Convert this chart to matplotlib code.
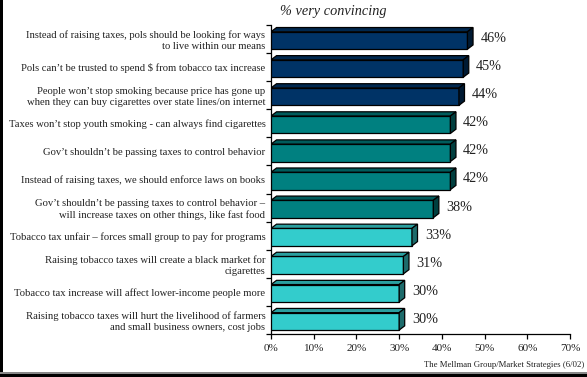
import matplotlib.pyplot as plt
from matplotlib.patches import Polygon, Rectangle
import numpy as np

plt.rcParams["font.family"] = ["Liberation Serif", "DejaVu Serif"]

# data, top to bottom
labels = [
    "Instead of raising taxes, pols should be looking for ways\nto live within our means",
    "Pols can\u2019t be trusted to spend $ from tobacco tax increase",
    "People won\u2019t stop smoking because price has gone up\nwhen they can buy cigarettes over state lines/on internet",
    "Taxes won\u2019t stop youth smoking - can always find cigarettes",
    "Gov\u2019t shouldn\u2019t be passing taxes to control behavior",
    "Instead of raising taxes, we should enforce laws on books",
    "Gov\u2019t shouldn\u2019t be passing taxes to control behavior \u2013\nwill increase taxes on other things, like fast food",
    "Tobacco tax unfair \u2013 forces small group to pay for programs",
    "Raising tobacco taxes will create a black market for\ncigarettes",
    "Tobacco tax increase will affect lower-income people more",
    "Raising tobacco taxes will hurt the livelihood of farmers\nand small business owners, cost jobs",
]
values = [46, 45, 44, 42, 42, 42, 38, 33, 31, 30, 30]
groups = [0, 0, 0, 1, 1, 1, 1, 2, 2, 2, 2]
xticks = [0, 10, 20, 30, 40, 50, 60, 70]

# front, top, side colours per group
front_cols = ["#003366", "#008080", "#33CCCC"]
top_cols = ["#00284f", "#005c5c", "#2a9f9f"]
side_cols = ["#001a33", "#003f3f", "#1d6b6b"]

fig = plt.figure(figsize=(5.87, 3.77), dpi=100)
ax = fig.add_axes([271 / 587, 1 - 334 / 377, 299 / 587, 309 / 377])

h = 0.62
dx = 1.3
dy = 0.15
for i, (v, g) in enumerate(zip(values, groups)):
    c = i + 0.05
    ax.barh(c, v, height=h, color=front_cols[g], edgecolor="black", linewidth=0.9, zorder=3)
    y0 = c - h / 2
    y1 = c + h / 2
    top = Polygon([(0, y0), (v, y0), (v + dx, y0 - dy), (dx, y0 - dy)], closed=True,
                  facecolor=top_cols[g], edgecolor="black", linewidth=0.9, zorder=3)
    side = Polygon([(v, y0), (v + dx, y0 - dy), (v + dx, y1 - dy), (v, y1)], closed=True,
                   facecolor=side_cols[g], edgecolor="black", linewidth=0.9, zorder=3)
    ax.add_patch(top)
    ax.add_patch(side)
    ax.text(v + 3, i - 0.02, f"{v}%", va="center", ha="left", fontsize=10.2, color="#222222")

ax.set_xlim(0, 70)
ax.set_ylim(len(values) - 0.5, -0.5)
ax.set_xticks(xticks)
ax.set_xticklabels([f"{t}%" for t in xticks], fontsize=8, color="#222222")
ax.set_yticks(np.arange(len(values) + 1) - 0.5)
ax.set_yticklabels([])
ax.set_yticks(np.arange(len(values)), minor=True)
ax.set_yticklabels(labels, minor=True, fontsize=7.65, color="#222222", linespacing=1.22)
ax.tick_params(axis="y", which="minor", length=0, pad=4)
ax.tick_params(axis="y", which="major", length=3.5, width=0.9, direction="out")
ax.tick_params(axis="x", length=3.5, width=0.9, direction="out", pad=4)
for lab in ax.get_yticklabels(minor=True):
    lab.set_horizontalalignment("right")
    lab.set_multialignment("right")
ax.spines["top"].set_visible(False)
ax.spines["right"].set_visible(False)
ax.spines["left"].set_linewidth(0.9)
ax.spines["bottom"].set_linewidth(0.9)

fig.text(333 / 587, 1 - 12 / 377, "% very convincing", ha="center", va="center",
         fontsize=10.3, style="italic", color="#222222")
fig.text(584 / 587, 1 - 365 / 377, "The Mellman Group/Market Strategies (6/02)",
         ha="right", va="center", fontsize=6.3, color="#222222")

# frame on the left and bottom edge
fig.add_artist(Rectangle((0, 0), 2.5 / 587, 1, transform=fig.transFigure,
                         facecolor="black", edgecolor="none"))
fig.add_artist(Rectangle((0, 0), 1, 3.5 / 377, transform=fig.transFigure,
                         facecolor="black", edgecolor="none"))
fig.add_artist(Rectangle((0, 3.5 / 377), 1, 1.2 / 377, transform=fig.transFigure,
                         facecolor="#888888", edgecolor="none"))

plt.savefig("out.png", dpi=100)
